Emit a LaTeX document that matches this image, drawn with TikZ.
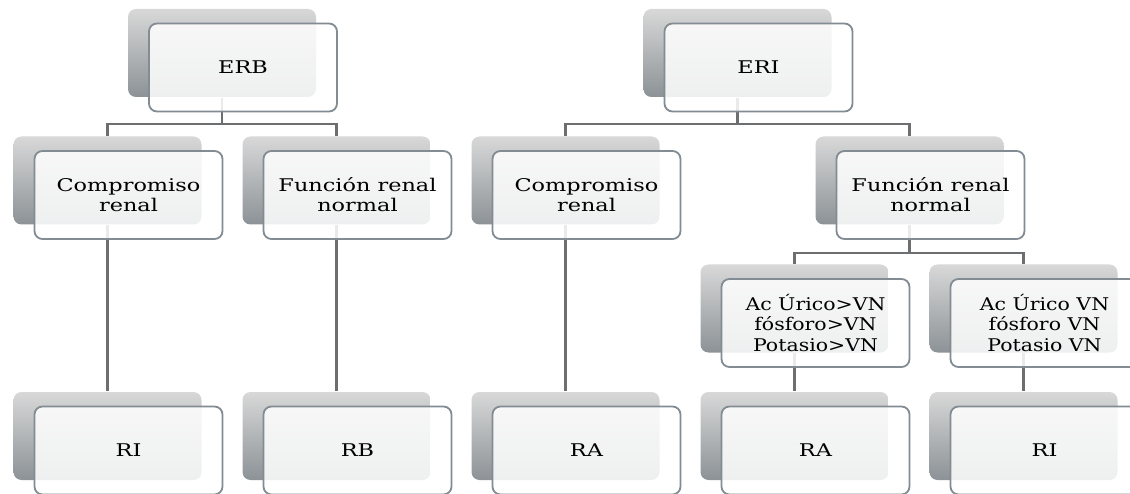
\documentclass[tikz,border=0pt]{standalone}
\usepackage{fontspec}
\setmainfont{DejaVu Serif}[FakeStretch=1.28]
\newfontfamily\narrowserif{DejaVu Serif}[FakeStretch=1.17]
\usetikzlibrary{backgrounds}
\definecolor{boxline}{RGB}{130,140,146}
\definecolor{connline}{RGB}{108,110,112}
\definecolor{shtop}{RGB}{216,216,216}
\definecolor{shbot}{RGB}{140,146,150}
\begin{document}
\begin{tikzpicture}[x=1pt,y=-1pt,
  card/.style={draw=boxline, line width=1.8pt, rounded corners=8pt, fill=white, fill opacity=0.86, text opacity=1,
    minimum width=188pt, minimum height=88pt, inner sep=0pt, align=center,
    font=\fontsize{17.5}{20}\selectfont, text=black,
    preaction={draw=none, fill opacity=1, top color=shtop, bottom color=shbot,
      transform canvas={shift={(-21pt,14.5pt)}}}},
  narrowcard/.style={card, font=\narrowserif\fontsize{17.5}{20.5}\selectfont},
  conn/.style={draw=connline, line width=2.2pt},
  sb/.style={xshift=-21pt, yshift=14.5pt}]
\clip (0,0) rectangle (1130,494);
% nodes
\node[card] (ERB) at (243,67.5) {ERB};
\node[card] (ERI) at (758.5,67.5) {ERI};
\node[card] (CR1) at (128.5,195) {Compromiso\\renal};
\node[card] (FR1) at (357.5,195) {Función renal\\normal};
\node[card] (CR2) at (586.5,195) {Compromiso\\renal};
\node[card] (FR2) at (930.5,195) {Función renal\\normal};
\node[narrowcard] (AU1) at (815.5,323) {Ac Úrico>VN\\fósforo>VN\\Potasio>VN};
\node[narrowcard] (AU2) at (1044.5,323) {Ac Úrico VN\\fósforo VN\\Potasio VN};
\node[card] (RI1) at (128.5,450.5) {RI};
\node[card] (RB) at (357.5,450.5) {RB};
\node[card] (RA1) at (586.5,450.5) {RA};
\node[card] (RA2) at (815.5,450.5) {RA};
\node[card] (RI2) at (1044.5,450.5) {RI};
% connectors
\begin{scope}[on background layer]
\fill[white] (0,0) rectangle (1130,494);
\draw[conn] ([sb]ERB.south) -- ++(0,26) -| ([sb]CR1.north);
\draw[conn] ([sb]ERB.south) -- ++(0,26) -| ([sb]FR1.north);
\draw[conn] ([sb]ERI.south) -- ++(0,26) -| ([sb]CR2.north);
\draw[conn] ([sb]ERI.south) -- ++(0,26) -| ([sb]FR2.north);
\draw[conn] ([sb]FR2.south) -- ++(0,27.5) -| ([sb]AU1.north);
\draw[conn] ([sb]FR2.south) -- ++(0,27.5) -| ([sb]AU2.north);
\draw[conn] ([sb]CR1.south) -- ([sb]RI1.north);
\draw[conn] ([sb]FR1.south) -- ([sb]RB.north);
\draw[conn] ([sb]CR2.south) -- ([sb]RA1.north);
\draw[conn] ([sb]AU1.south) -- ([sb]RA2.north);
\draw[conn] ([sb]AU2.south) -- ([sb]RI2.north);
\end{scope}
\end{tikzpicture}
\end{document}
